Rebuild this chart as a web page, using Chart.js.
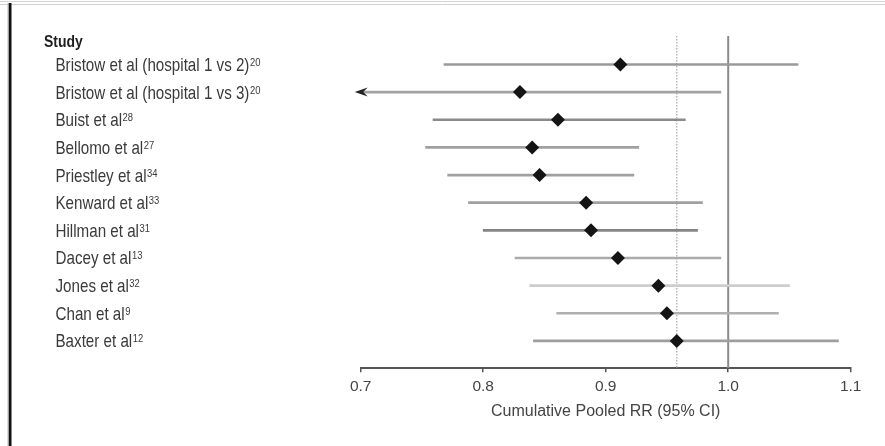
<!DOCTYPE html>
<html><head><meta charset="utf-8">
<script src="https://cdn.jsdelivr.net/npm/chart.js@4/dist/chart.umd.min.js"></script>
<style>html,body{margin:0;padding:0;background:#fff;overflow:hidden}#wrap{position:relative;width:885px;height:446px}</style>
</head><body><div id="wrap"><canvas id="c" width="885" height="446"></canvas></div>
<script>
// ---- data ----
const studies = [
  'Bristow et al (hospital 1 vs 2)',
  'Bristow et al (hospital 1 vs 3)',
  'Buist et al',
  'Bellomo et al',
  'Priestley et al',
  'Kenward et al',
  'Hillman et al',
  'Dacey et al',
  'Jones et al',
  'Chan et al',
  'Baxter et al'
];
const refs = ['20', '20', '28', '27', '34', '33', '31', '13', '32', '9', '12'];
const rr    = [0.912, 0.830, 0.861, 0.840, 0.846, 0.884, 0.888, 0.910, 0.943, 0.950, 0.958];
const lower = [0.768, 0.690, 0.759, 0.753, 0.771, 0.788, 0.800, 0.826, 0.838, 0.860, 0.841];
const upper = [1.057, 0.994, 0.965, 0.927, 0.923, 0.979, 0.975, 0.994, 1.050, 1.041, 1.090];
const xTicks = [0.7, 0.8, 0.9, 1.0, 1.1];
const nullValue = 1.0;
const headerLabel = 'Study';
const axisTitle = 'Cumulative Pooled RR (95% CI)';

// ---- styles ----
const ciColors = ['#9a9a9a', '#a2a2a2', '#8a8a8a', '#a0a0a0', '#a0a0a0', '#a0a0a0',
                  '#858585', '#ababab', '#cdcdcd', '#b0b0b0', '#9e9e9e'];

function hasFont(name) {
  const ctx = document.createElement('canvas').getContext('2d');
  const s = 'Bristow et al (hospital 1 vs 2)';
  ctx.font = '40px monospace';
  const w1 = ctx.measureText(s).width;
  ctx.font = '40px "' + name + '", monospace';
  return ctx.measureText(s).width !== w1;
}
const narrow = hasFont('Liberation Sans Narrow');
const LABEL_FAM = narrow ? '"Liberation Sans Narrow", sans-serif' : '"Liberation Sans", Arial, sans-serif';
const SQUEEZE = narrow ? 1 : 0.82;       // horizontal condensing for label text
const AXIS_FAM = '"Liberation Sans", Arial, sans-serif';

const Y_MIN = -1.03, Y_MAX = 10.99;

const framePlugin = {
  id: 'frame',
  beforeDraw(chart) {
    const ctx = chart.ctx;
    ctx.save();
    ctx.fillStyle = '#fff';
    ctx.fillRect(0, 0, chart.width, chart.height);
    ctx.strokeStyle = '#d2d2d2';
    ctx.lineWidth = 1;
    ctx.beginPath();
    ctx.moveTo(0, 1.5); ctx.lineTo(chart.width, 1.5);
    ctx.moveTo(0, 4.5); ctx.lineTo(chart.width, 4.5);
    ctx.stroke();
    ctx.fillStyle = '#111';
    ctx.fillRect(8.5, 3, 3, chart.height - 3);
    ctx.fillStyle = '#bbb';
    ctx.fillRect(7.5, 3, 1, chart.height - 3);
    ctx.restore();
  }
};

function drawSqueezed(ctx, text, x, y) {
  ctx.save();
  ctx.translate(x, y);
  ctx.scale(SQUEEZE, 1);
  ctx.fillText(text, 0, 0);
  const w = ctx.measureText(text).width * SQUEEZE;
  ctx.restore();
  return w;
}

const labelPlugin = {
  id: 'labels',
  afterDraw(chart) {
    const ctx = chart.ctx;
    const ys = chart.scales.y;
    ctx.save();
    ctx.textBaseline = 'alphabetic';
    ctx.textAlign = 'left';
    ctx.fillStyle = '#1e1e1e';
    ctx.font = 'bold 17px ' + LABEL_FAM;
    drawSqueezed(ctx, headerLabel, 44, 46.5);
    ctx.fillStyle = '#3a3a3a';
    studies.forEach((s, i) => {
      const y = ys.getPixelForValue(i);
      ctx.font = '18.5px ' + LABEL_FAM;
      const w = drawSqueezed(ctx, s, 55.5, y + 6.5);
      ctx.font = '11.5px ' + LABEL_FAM;
      drawSqueezed(ctx, refs[i], 55.5 + w + 0.5, y + 1.5);
    });
    ctx.restore();
  }
};

const arrowPlugin = {
  id: 'arrows',
  afterDatasetsDraw(chart) {
    const ctx = chart.ctx;
    const xs = chart.scales.x, ys = chart.scales.y;
    ctx.save();
    ctx.fillStyle = '#222';
    lower.forEach((lo, i) => {
      if (lo < xs.min) {
        const y = ys.getPixelForValue(i);
        const x0 = xs.left;
        ctx.beginPath();
        ctx.moveTo(x0 - 6, y);
        ctx.lineTo(x0 + 7, y - 4.5);
        ctx.lineTo(x0 + 2.5, y);
        ctx.lineTo(x0 + 7, y + 4.5);
        ctx.closePath();
        ctx.fill();
      }
    });
    ctx.restore();
  }
};

new Chart(document.getElementById('c'), {
  type: 'bar',
  data: {
    datasets: [
      {
        type: 'line',
        data: [{x: nullValue, y: Y_MIN}, {x: nullValue, y: Y_MAX}],
        borderColor: '#8a8a8a', borderWidth: 2, pointRadius: 0, order: 4
      },
      {
        type: 'line',
        data: [{x: rr[rr.length - 1], y: Y_MIN}, {x: rr[rr.length - 1], y: Y_MAX}],
        borderColor: '#a8a8a8', borderWidth: 1.2, borderDash: [1.5, 1.5], pointRadius: 0, order: 3
      },
      {
        type: 'bar',
        indexAxis: 'y',
        data: studies.map((s, i) => ({x: [lower[i], upper[i]], y: i})),
        backgroundColor: ciColors,
        borderWidth: 0,
        barThickness: 2,
        order: 2
      },
      {
        type: 'scatter',
        data: studies.map((s, i) => ({x: rr[i], y: i})),
        pointStyle: 'rectRot',
        pointRadius: 7,
        backgroundColor: '#141414',
        borderWidth: 0,
        order: 1
      }
    ]
  },
  options: {
    indexAxis: 'y',
    responsive: false,
    animation: false,
    events: [],
    layout: {padding: {left: 360.7, right: 34.3, top: 36, bottom: 0}},
    plugins: {legend: {display: false}, tooltip: {enabled: false}},
    scales: {
      x: {
        type: 'linear',
        offset: false,
        min: 0.7, max: 1.1,
        afterBuildTicks: s => { s.ticks = xTicks.map(v => ({value: v})); },
        afterFit: s => { s.height = 446 - 368.3; },
        ticks: {
          callback: v => Number(v).toFixed(1),
          color: '#444',
          font: {family: AXIS_FAM, size: 15.5},
          padding: 5,
          maxRotation: 0,
          autoSkip: false
        },
        grid: {offset: false, drawOnChartArea: false, drawTicks: true, tickLength: 4, color: '#555', lineWidth: 1.5},
        border: {display: true, color: '#555', width: 2},
        title: {
          display: true, text: axisTitle, color: '#444',
          font: {family: AXIS_FAM, size: 16},
          padding: {top: 0, bottom: 25}
        }
      },
      y: {
        type: 'linear',
        offset: false,
        grid: {offset: false},
        display: false,
        reverse: true,
        min: Y_MIN, max: Y_MAX
      }
    }
  },
  plugins: [framePlugin, labelPlugin, arrowPlugin]
});
</script>
</body></html>
